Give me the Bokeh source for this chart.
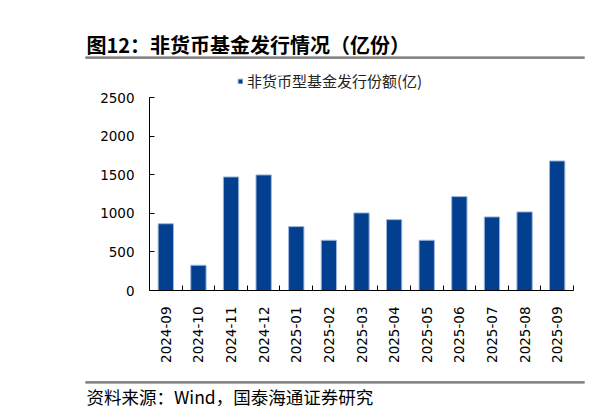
import math
from bokeh.plotting import figure
from bokeh.models import (Range1d, LinearAxis, FixedTicker, Label, ColumnDataSource)
from bokeh.embed import file_html
from bokeh.resources import INLINE

# ---- data ----
months = ["2024-09", "2024-10", "2024-11", "2024-12", "2025-01", "2025-02", "2025-03",
          "2025-04", "2025-05", "2025-06", "2025-07", "2025-08", "2025-09"]
issuance = [865, 327, 1471, 1497, 828, 651, 1005, 918, 651, 1216, 953, 1018, 1678]
y_ticks = [0, 500, 1000, 1500, 2000, 2500]
series_name = "非货币型基金发行份额(亿)"
title_text = "图12：非货币基金发行情况（亿份）"
source_text = "资料来源：Wind，国泰海通证券研究"

# ---- layout (pixels) ----
W, H = 603, 415
PL, PR, PT, PB = 149, 573, 97, 290   # plot area in canvas pixels
RULE_L, RULE_R = 85, 584
RULES_Y = (57.3, 381.7)

n = len(months)
xs = list(range(n))
edges = [i - 0.5 for i in range(n + 1)]
x0, x1 = -0.5, n - 0.5
y0, y1 = y_ticks[0], y_ticks[-1]
ux = (x1 - x0) / (PR - PL)
uy = (y1 - y0) / (PB - PT)
xs_start = x0 - PL * ux
ys_end = y1 + PT * uy


def px_x(px):
    return xs_start + px * ux


def px_y(py):
    return ys_end - py * uy


src = ColumnDataSource(data=dict(x=xs, v=issuance, m=months))

p = figure(width=W, height=H, output_backend="svg", toolbar_location=None,
           x_range=Range1d(xs_start, x1 + (W - PR) * ux),
           y_range=Range1d(y0 - (H - PB) * uy, ys_end),
           x_axis_type=None, y_axis_type=None,
           min_border=0, min_border_left=0, min_border_right=0,
           min_border_top=0, min_border_bottom=0)
p.outline_line_color = None
p.background_fill_color = "white"
p.border_fill_color = "white"

# grey rules under the title and above the source note
p.segment(x0=[px_x(RULE_L)] * 2, x1=[px_x(RULE_R)] * 2,
          y0=[px_y(v) for v in RULES_Y], y1=[px_y(v) for v in RULES_Y],
          line_color="#7f7f7f", line_width=2)
mid = px_x((RULE_L + RULE_R) / 2)
for yline in RULES_Y:
    rule = LinearAxis(ticker=FixedTicker(ticks=[mid], minor_ticks=[]),
                      major_label_overrides={mid: " "},
                      fixed_location=px_y(yline), bounds=(px_x(RULE_L), px_x(RULE_R)))
    rule.axis_line_color = "#7f7f7f"
    rule.axis_line_width = 2
    rule.major_tick_line_color = None
    rule.minor_tick_line_color = None
    rule.major_label_text_font_size = "1px"
    rule.major_label_text_alpha = 0
    p.add_layout(rule, "below")

BAR = "#023f8f"
p.vbar(x="x", top="v", width=0.47, source=src, fill_color=BAR, line_color="#9fb7da",
       line_width=1, legend_label=series_name)

xaxis = LinearAxis(ticker=FixedTicker(ticks=xs, minor_ticks=edges),
                   major_label_overrides={i: m for i, m in zip(xs, months)},
                   fixed_location=y0, bounds=(x0, x1))
xaxis.major_tick_line_color = None
xaxis.minor_tick_in = 5
xaxis.minor_tick_out = 0
xaxis.minor_tick_line_color = "#000000"
xaxis.axis_line_color = "#000000"
xaxis.major_label_orientation = math.pi / 2
xaxis.major_label_standoff = 10
xaxis.major_label_text_font = "DejaVu Sans"
xaxis.major_label_text_font_size = "13.5px"
xaxis.major_label_text_color = "#000000"
p.add_layout(xaxis, "below")

yaxis = LinearAxis(ticker=FixedTicker(ticks=y_ticks, minor_ticks=[]),
                   fixed_location=x0, bounds=(y0, y1))
yaxis.major_tick_in = 5
yaxis.major_tick_out = 0
yaxis.minor_tick_line_color = None
yaxis.major_tick_line_color = "#000000"
yaxis.axis_line_color = "#000000"
yaxis.major_label_standoff = 15
yaxis.major_label_text_font = "DejaVu Sans"
yaxis.major_label_text_font_size = "13.5px"
yaxis.major_label_text_color = "#000000"
p.add_layout(yaxis, "left")

lg = p.legend[0]
lg.location = (237, H - 91)
lg.padding = 0
lg.margin = 0
lg.spacing = 0
lg.border_line_color = None
lg.background_fill_alpha = 0
lg.glyph_width = 6
lg.glyph_height = 6
lg.label_standoff = 4
lg.label_height = 14
lg.label_text_font = "Noto Sans CJK SC"
lg.label_text_font_size = "15px"
lg.label_text_color = "#222222"

p.add_layout(Label(x=86, y=H - 44, x_units="screen", y_units="screen", text=title_text,
                   text_font="Noto Sans CJK SC", text_font_size="20px", text_font_style="bold",
                   text_baseline="middle", text_align="left", text_color="#000000"))
p.add_layout(Label(x=86, y=H - 396, x_units="screen", y_units="screen", text=source_text,
                   text_font="Noto Sans CJK SC", text_font_size="17.5px",
                   text_baseline="middle", text_align="left", text_color="#000000"))

open("out.html", "w").write(file_html(p, INLINE))
